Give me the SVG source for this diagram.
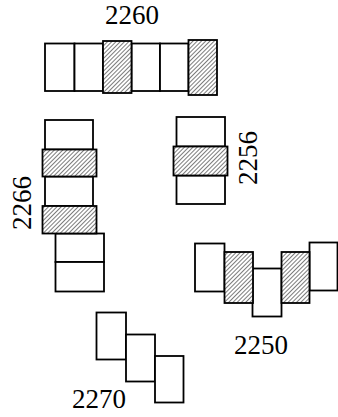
<svg xmlns="http://www.w3.org/2000/svg" width="338" height="417" viewBox="0 0 338 417">
<defs>
<pattern id="hatch" patternUnits="userSpaceOnUse" width="3" height="3" patternTransform="rotate(45)">
<rect width="3" height="3" fill="#fff"/>
<line x1="0.5" y1="0" x2="0.5" y2="3" stroke="#444" stroke-width="0.7"/>
</pattern>
</defs>
<style>
.b{fill:#fff;stroke:#000;stroke-width:1.8}
.h{fill:url(#hatch);stroke:#000;stroke-width:1.8}
.t{font-family:"Liberation Serif",serif;font-size:27px;fill:#000;text-anchor:middle}
</style>
<g id="n2260">
<rect class="b" x="45" y="43.5" width="29.5" height="47.5"/>
<rect class="b" x="74.5" y="43.5" width="28.5" height="47.5"/>
<rect class="b" x="131.5" y="43.5" width="28.5" height="47.5"/>
<rect class="b" x="160" y="43.5" width="28.5" height="47.5"/>
<rect class="h" x="103" y="41" width="28.5" height="52"/>
<rect class="h" x="188.5" y="40" width="28.5" height="55"/>
<text class="t" x="132" y="24">2260</text>
</g>
<g id="n2266">
<rect class="b" x="45" y="120" width="48" height="29.5"/>
<rect class="b" x="45" y="176.5" width="48" height="29.5"/>
<rect class="b" x="55.5" y="233.5" width="48.5" height="28.5"/>
<rect class="b" x="55.5" y="262" width="48.5" height="29.5"/>
<rect class="h" x="42.5" y="149.5" width="54" height="27"/>
<rect class="h" x="42.5" y="206" width="54" height="27.5"/>
<text class="t" transform="translate(31,203) rotate(-90)">2266</text>
</g>
<g id="n2256">
<rect class="b" x="176.5" y="117" width="48.5" height="29.5"/>
<rect class="b" x="176.5" y="175.5" width="48.5" height="28.5"/>
<rect class="h" x="173.5" y="146.5" width="54" height="29"/>
<text class="t" transform="translate(257,158) rotate(-90)">2256</text>
</g>
<g id="n2250">
<rect class="b" x="195" y="243.5" width="29.5" height="48"/>
<rect class="b" x="252.5" y="268.5" width="29" height="48"/>
<rect class="b" x="309.5" y="242.5" width="28" height="48"/>
<rect class="h" x="224.5" y="252" width="28.5" height="51"/>
<rect class="h" x="281.5" y="252" width="28" height="51"/>
<text class="t" x="261" y="354">2250</text>
</g>
<g id="n2270">
<rect class="b" x="96.5" y="312.5" width="29.5" height="47"/>
<rect class="b" x="126" y="334.5" width="29" height="47"/>
<rect class="b" x="155" y="356" width="28.5" height="46.5"/>
<text class="t" x="99" y="408">2270</text>
</g>
<g id="connectors"/>
</svg>
